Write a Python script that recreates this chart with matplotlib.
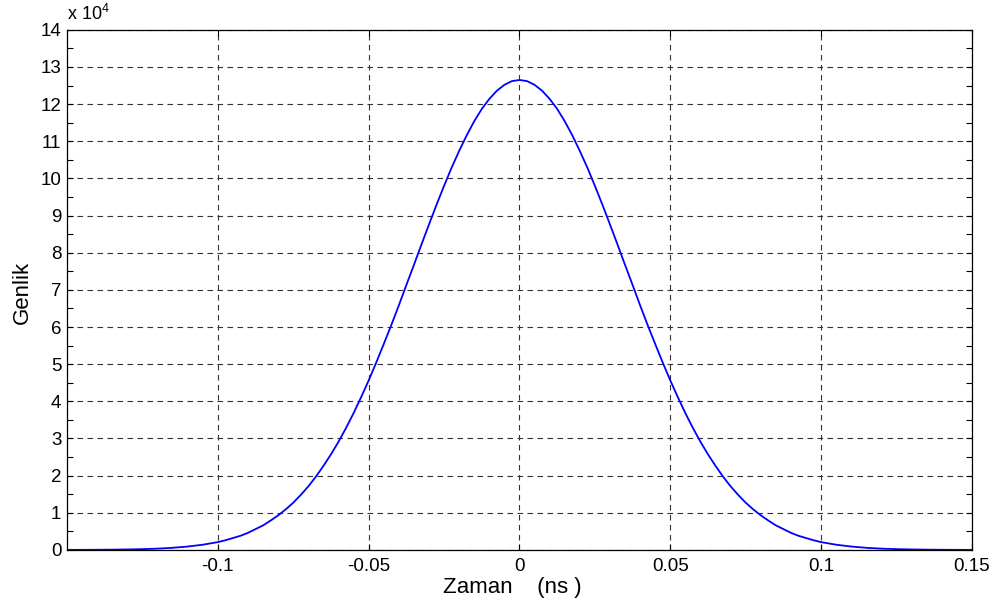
import matplotlib
matplotlib.use("Agg")
import matplotlib.pyplot as plt
from matplotlib.ticker import MultipleLocator, FixedLocator

plt.rcParams['font.family'] = ['Liberation Sans', 'DejaVu Sans']
plt.rcParams['mathtext.fontset'] = 'custom'
plt.rcParams['mathtext.rm'] = 'Liberation Sans'

# time (ns) and amplitude (in units of 1e4)
zaman = [-0.150, -0.145, -0.140, -0.135, -0.130, -0.125, -0.120, -0.115,
         -0.110, -0.105, -0.100, -0.0975, -0.095, -0.0925, -0.090, -0.0875,
         -0.085, -0.0825, -0.080, -0.0775, -0.075, -0.0725, -0.070, -0.0675,
         -0.065, -0.0625, -0.060, -0.0575, -0.055, -0.0525, -0.050, -0.0475,
         -0.045, -0.0425, -0.040, -0.0375, -0.035, -0.0325, -0.030, -0.0275,
         -0.025, -0.0225, -0.020, -0.0175, -0.015, -0.0125, -0.010, -0.0075,
         -0.005, -0.0025, 0.000,
         0.0025, 0.005, 0.0075, 0.010, 0.0125, 0.015, 0.0175, 0.020,
         0.0225, 0.025, 0.0275, 0.030, 0.0325, 0.035, 0.0375, 0.040,
         0.0425, 0.045, 0.0475, 0.050, 0.0525, 0.055, 0.0575, 0.060,
         0.0625, 0.065, 0.0675, 0.070, 0.0725, 0.075, 0.0775, 0.080,
         0.0825, 0.085, 0.0875, 0.090, 0.0925, 0.095, 0.0975, 0.100,
         0.105, 0.110, 0.115, 0.120, 0.125, 0.130, 0.135, 0.140,
         0.145, 0.150]
genlik = [0.0013, 0.0024, 0.0042, 0.0074, 0.013, 0.021, 0.035, 0.057,
          0.091, 0.14, 0.21, 0.26, 0.32, 0.38, 0.46, 0.56,
          0.66, 0.79, 0.93, 1.09, 1.27, 1.48, 1.71, 1.97,
          2.26, 2.57, 2.91, 3.28, 3.68, 4.11, 4.56, 5.04,
          5.54, 6.05, 6.58, 7.13, 7.67, 8.22, 8.76, 9.29,
          9.80, 10.29, 10.74, 11.16, 11.54, 11.87, 12.14, 12.36,
          12.52, 12.62, 12.65,
          12.62, 12.52, 12.36, 12.14, 11.87, 11.54, 11.16, 10.74,
          10.29, 9.80, 9.29, 8.76, 8.22, 7.67, 7.13, 6.58,
          6.05, 5.54, 5.04, 4.56, 4.11, 3.68, 3.28, 2.91,
          2.57, 2.26, 1.97, 1.71, 1.48, 1.27, 1.09, 0.93,
          0.79, 0.66, 0.56, 0.46, 0.38, 0.32, 0.26, 0.21,
          0.14, 0.091, 0.057, 0.035, 0.021, 0.013, 0.0074, 0.0042,
          0.0024, 0.0013]

x_ticks = [-0.1, -0.05, 0, 0.05, 0.1, 0.15]
x_labels = ['-0.1', '-0.05', '0', '0.05', '0.1', '0.15']
y_ticks = list(range(0, 15))

fig = plt.figure(figsize=(9.99, 6.09), dpi=100)
ax = fig.add_axes([0.067, 0.097, 0.906, 0.854])

ax.plot(zaman, genlik, color='#0000ff', linewidth=1.3)

ax.set_xlim(-0.15, 0.15)
ax.set_ylim(0, 14)
ax.xaxis.set_major_locator(FixedLocator(x_ticks))
ax.set_xticklabels(x_labels)
ax.yaxis.set_major_locator(FixedLocator(y_ticks))
ax.yaxis.set_minor_locator(MultipleLocator(0.5))

ax.grid(True, which='major', linestyle=(0, (5, 4)), color='#333333', linewidth=0.8)
ax.tick_params(which='both', direction='in', top=True, right=True,
               labelsize=13.5, length=4, width=0.8, colors='black')
ax.tick_params(axis='x', pad=6)
ax.tick_params(axis='y', pad=4)
for s in ax.spines.values():
    s.set_linewidth(0.9)

# axis labels placed in figure coordinates
ax.set_xlabel('Zaman    (ns )', fontsize=16)
ax.xaxis.set_label_coords(0.5125, 0.053, transform=fig.transFigure)
ax.xaxis.label.set_va('top')
ax.set_ylabel('Genlik', fontsize=16)
ax.yaxis.set_label_coords(0.0325, 0.52, transform=fig.transFigure)
ax.text(0.0, 1.012, r'x 10$^{4}$', transform=ax.transAxes, fontsize=13,
        ha='left', va='bottom')

fig.savefig('out.png', dpi=100)
